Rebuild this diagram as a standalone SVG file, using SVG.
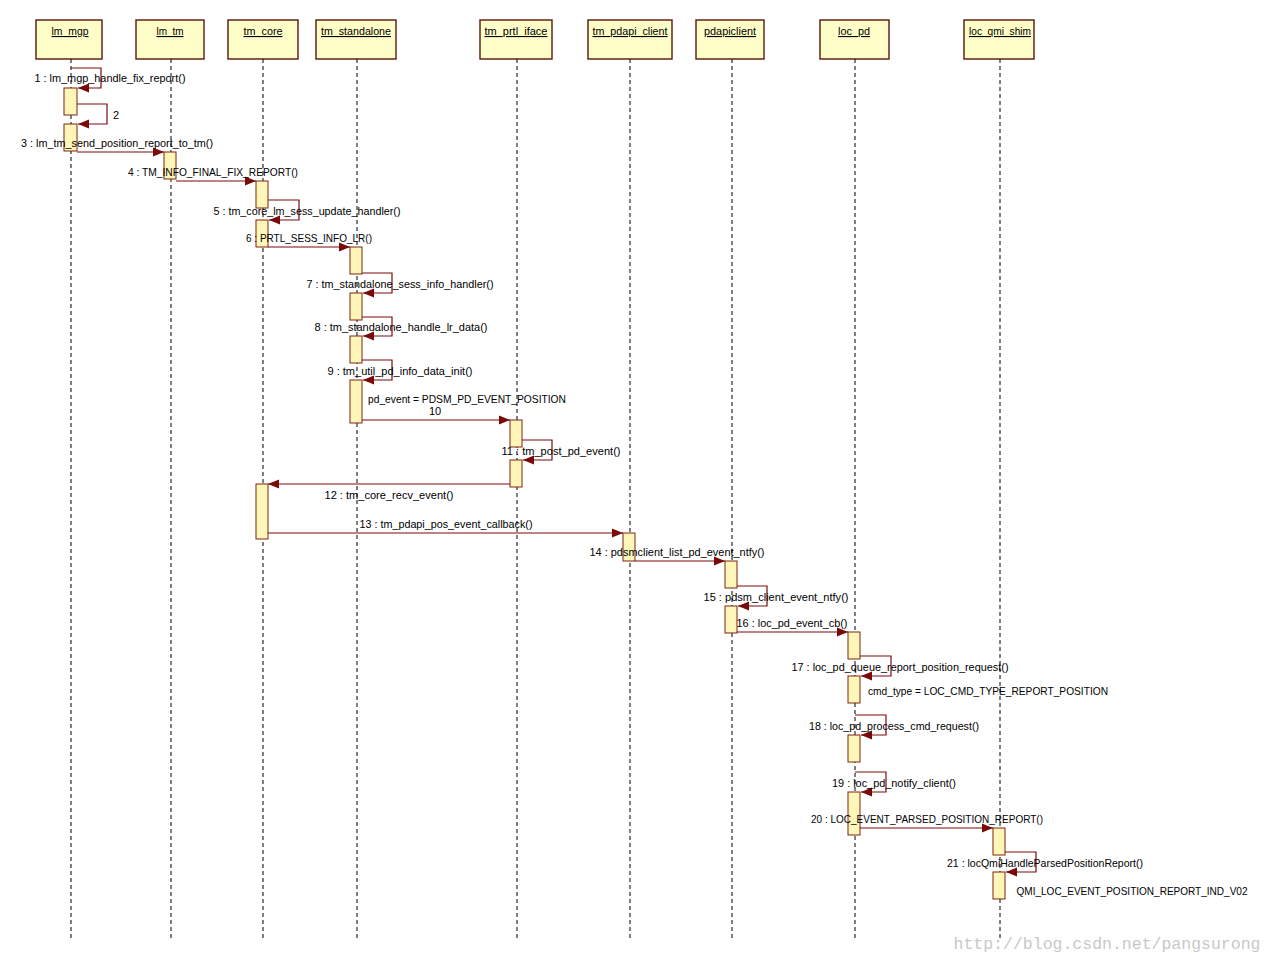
<svg xmlns="http://www.w3.org/2000/svg" width="1273" height="964" viewBox="0 0 1273 964">
<style>
.hd{fill:#fffdc8;stroke:#5a1608;stroke-width:1.4}
.ht{font-family:"Liberation Sans",Arial,sans-serif;font-size:11px;fill:#000;text-anchor:middle;text-decoration:underline}
.ll{stroke:#000;stroke-width:1;stroke-dasharray:4 3;fill:none}
.act{fill:#fff6b8;stroke:#7a2410;stroke-width:1}
.msg{stroke:#7a0a0a;stroke-width:1.2;fill:none;marker-end:url(#ah)}
.lb{font-family:"Liberation Sans",Arial,sans-serif;font-size:11px;fill:#000;text-anchor:middle}
.wm{font-family:"Liberation Mono","DejaVu Sans Mono",monospace;font-size:16.5px;fill:#c8c8c8;text-anchor:middle}
</style>
<defs>
<marker id="ah" markerUnits="userSpaceOnUse" markerWidth="12" markerHeight="10" refX="11" refY="5" orient="auto">
<path d="M0,0.5 L11,5 L0,9.5 Z" fill="#7a0a0a"/>
</marker>
</defs>
<rect width="1273" height="964" fill="#fff"/>

<g id="lm_mgp">
<rect class="hd" x="36" y="20" width="66" height="39"/>
<text class="ht" x="70" y="35" textLength="37" lengthAdjust="spacingAndGlyphs">lm_mgp</text>
<line class="ll" x1="71" y1="59" x2="71" y2="940"/>
<rect class="act" x="64" y="88" width="13" height="27"/>
<rect class="act" x="64" y="124" width="13" height="27"/>
</g>
<g id="lm_tm">
<rect class="hd" x="136" y="20" width="68" height="39"/>
<text class="ht" x="170" y="35" textLength="27" lengthAdjust="spacingAndGlyphs">lm_tm</text>
<line class="ll" x1="171" y1="59" x2="171" y2="940"/>
<rect class="act" x="164" y="152" width="12" height="27"/>
</g>
<g id="tm_core">
<rect class="hd" x="228" y="20" width="70" height="39"/>
<text class="ht" x="263" y="35" textLength="39" lengthAdjust="spacingAndGlyphs">tm_core</text>
<line class="ll" x1="263" y1="59" x2="263" y2="940"/>
<rect class="act" x="256" y="181" width="12" height="27"/>
<rect class="act" x="256" y="220" width="12" height="27"/>
<rect class="act" x="256" y="484" width="12" height="55"/>
</g>
<g id="tm_standalone">
<rect class="hd" x="316" y="20" width="80" height="39"/>
<text class="ht" x="356" y="35" textLength="70" lengthAdjust="spacingAndGlyphs">tm_standalone</text>
<line class="ll" x1="357" y1="59" x2="357" y2="940"/>
<rect class="act" x="350" y="247" width="12" height="27"/>
<rect class="act" x="350" y="293" width="12" height="27"/>
<rect class="act" x="350" y="336" width="12" height="27"/>
<rect class="act" x="350" y="380" width="12" height="43"/>
</g>
<g id="tm_prtl_iface">
<rect class="hd" x="480" y="20" width="72" height="39"/>
<text class="ht" x="516" y="35" textLength="63" lengthAdjust="spacingAndGlyphs">tm_prtl_iface</text>
<line class="ll" x1="517" y1="59" x2="517" y2="940"/>
<rect class="act" x="510" y="420" width="12" height="27"/>
<rect class="act" x="510" y="460" width="12" height="27"/>
</g>
<g id="tm_pdapi_client">
<rect class="hd" x="588" y="20" width="84" height="39"/>
<text class="ht" x="630" y="35" textLength="75" lengthAdjust="spacingAndGlyphs">tm_pdapi_client</text>
<line class="ll" x1="630" y1="59" x2="630" y2="940"/>
<rect class="act" x="623" y="533" width="12" height="28"/>
</g>
<g id="pdapiclient">
<rect class="hd" x="696" y="20" width="68" height="39"/>
<text class="ht" x="730" y="35" textLength="52" lengthAdjust="spacingAndGlyphs">pdapiclient</text>
<line class="ll" x1="732" y1="59" x2="732" y2="940"/>
<rect class="act" x="725" y="561" width="12" height="27"/>
<rect class="act" x="725" y="606" width="12" height="27"/>
</g>
<g id="loc_pd">
<rect class="hd" x="820" y="20" width="69" height="39"/>
<text class="ht" x="854" y="35" textLength="32" lengthAdjust="spacingAndGlyphs">loc_pd</text>
<line class="ll" x1="855" y1="59" x2="855" y2="940"/>
<rect class="act" x="848" y="632" width="12" height="27"/>
<rect class="act" x="848" y="676" width="12" height="27"/>
<rect class="act" x="848" y="735" width="12" height="27"/>
<rect class="act" x="848" y="792" width="12" height="43"/>
</g>
<g id="loc_qmi_shim">
<rect class="hd" x="964" y="20" width="70" height="39"/>
<text class="ht" x="1000" y="35" textLength="62" lengthAdjust="spacingAndGlyphs">loc_qmi_shim</text>
<line class="ll" x1="1000" y1="59" x2="1000" y2="940"/>
<rect class="act" x="993" y="828" width="12" height="27"/>
<rect class="act" x="993" y="872" width="12" height="27"/>
</g>

<g id="connectors">
<path class="msg" d="M71,68 H101 V88 H78"/>
<path class="msg" d="M77,104 H107 V124 H78"/>
<path class="msg" d="M77,152 H164"/>
<path class="msg" d="M176,181 H256"/>
<path class="msg" d="M268,200 H299 V220 H269"/>
<path class="msg" d="M268,247 H350"/>
<path class="msg" d="M362,273 H392 V293 H363"/>
<path class="msg" d="M362,317 H392 V336 H363"/>
<path class="msg" d="M362,360 H392 V380 H363"/>
<path class="msg" d="M362,420 H510"/>
<path class="msg" d="M522,440 H552 V460 H523"/>
<path class="msg" d="M510,484 H268"/>
<path class="msg" d="M268,533 H623"/>
<path class="msg" d="M635,561 H725"/>
<path class="msg" d="M737,586 H767 V606 H738"/>
<path class="msg" d="M737,632 H848"/>
<path class="msg" d="M860,656 H891 V676 H861"/>
<path class="msg" d="M855,715 H886 V735 H861"/>
<path class="msg" d="M855,772 H886 V792 H861"/>
<path class="msg" d="M860,828 H993"/>
<path class="msg" d="M1005,852 H1036 V872 H1006"/>
</g>

<g id="labels">
<text class="lb" x="110" y="82" textLength="151" lengthAdjust="spacingAndGlyphs">1 : lm_mgp_handle_fix_report()</text>
<text class="lb" x="116" y="119">2</text>
<text class="lb" x="117" y="147" textLength="192" lengthAdjust="spacingAndGlyphs">3 : lm_tm_send_position_report_to_tm()</text>
<text class="lb" x="213" y="176" textLength="170" lengthAdjust="spacingAndGlyphs">4 : TM_INFO_FINAL_FIX_REPORT()</text>
<text class="lb" x="307" y="215" textLength="187" lengthAdjust="spacingAndGlyphs">5 : tm_core_lm_sess_update_handler()</text>
<text class="lb" x="309" y="242" textLength="126" lengthAdjust="spacingAndGlyphs">6 : PRTL_SESS_INFO_LR()</text>
<text class="lb" x="400" y="288" textLength="187" lengthAdjust="spacingAndGlyphs">7 : tm_standalone_sess_info_handler()</text>
<text class="lb" x="401" y="331" textLength="173" lengthAdjust="spacingAndGlyphs">8 : tm_standalone_handle_lr_data()</text>
<text class="lb" x="400" y="375" textLength="145" lengthAdjust="spacingAndGlyphs">9 : tm_util_pd_info_data_init()</text>
<text class="lb" x="467" y="403" textLength="198" lengthAdjust="spacingAndGlyphs">pd_event = PDSM_PD_EVENT_POSITION</text>
<text class="lb" x="435" y="415">10</text>
<text class="lb" x="561" y="455" textLength="119" lengthAdjust="spacingAndGlyphs">11 : tm_post_pd_event()</text>
<text class="lb" x="389" y="499" textLength="129" lengthAdjust="spacingAndGlyphs">12 : tm_core_recv_event()</text>
<text class="lb" x="446" y="528" textLength="173" lengthAdjust="spacingAndGlyphs">13 : tm_pdapi_pos_event_callback()</text>
<text class="lb" x="677" y="556" textLength="175" lengthAdjust="spacingAndGlyphs">14 : pdsmclient_list_pd_event_ntfy()</text>
<text class="lb" x="776" y="601" textLength="145" lengthAdjust="spacingAndGlyphs">15 : pdsm_client_event_ntfy()</text>
<text class="lb" x="792" y="627" textLength="111" lengthAdjust="spacingAndGlyphs">16 : loc_pd_event_cb()</text>
<text class="lb" x="900" y="671" textLength="217" lengthAdjust="spacingAndGlyphs">17 : loc_pd_queue_report_position_request()</text>
<text class="lb" x="988" y="695" textLength="240" lengthAdjust="spacingAndGlyphs">cmd_type = LOC_CMD_TYPE_REPORT_POSITION</text>
<text class="lb" x="894" y="730" textLength="170" lengthAdjust="spacingAndGlyphs">18 : loc_pd_process_cmd_request()</text>
<text class="lb" x="894" y="787" textLength="124" lengthAdjust="spacingAndGlyphs">19 : loc_pd_notify_client()</text>
<text class="lb" x="927" y="823" textLength="232" lengthAdjust="spacingAndGlyphs">20 : LOC_EVENT_PARSED_POSITION_REPORT()</text>
<text class="lb" x="1045" y="867" textLength="196" lengthAdjust="spacingAndGlyphs">21 : locQmiHandleParsedPositionReport()</text>
<text class="lb" x="1132" y="895" textLength="231" lengthAdjust="spacingAndGlyphs">QMI_LOC_EVENT_POSITION_REPORT_IND_V02</text>
</g>
<text class="wm" x="1107" y="949">http://blog.csdn.net/pangsurong</text>
</svg>
